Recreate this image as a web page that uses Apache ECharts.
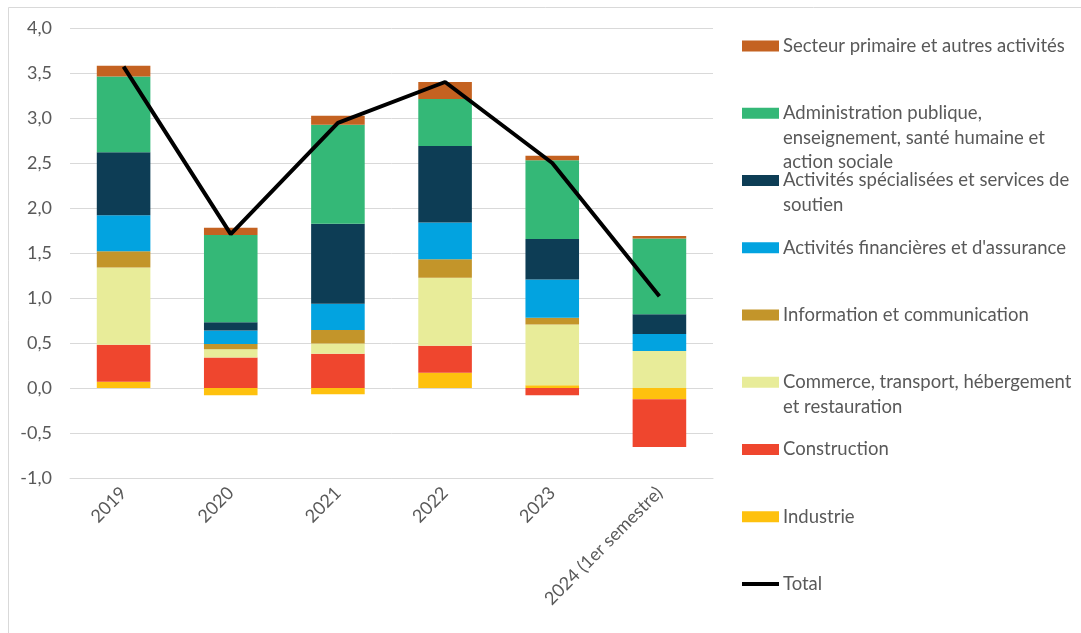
<!DOCTYPE html>
<html>
<head>
<meta charset="utf-8">
<script src="https://cdn.jsdelivr.net/npm/echarts@6/dist/echarts.min.js"></script>
<style>
  html, body { margin: 0; padding: 0; background: #fff; }
  #chart { width: 1081px; height: 633px; }
</style>
</head>
<body>
<div id="chart"></div>
<script>
// années
var years = ["2019", "2020", "2021", "2022", "2023", "2024 (1er semestre)"];

// contributions par secteur (points de %)
var industrie    = [0.07, -0.08, -0.07, 0.17, 0.03, -0.125];
var construction = [0.41, 0.34, 0.38, 0.30, -0.08, -0.53];
var commerce     = [0.86, 0.09, 0.115, 0.755, 0.675, 0.41];
var information  = [0.18, 0.06, 0.15, 0.205, 0.075, 0.0];
var financieres  = [0.40, 0.15, 0.29, 0.41, 0.425, 0.19];
var specialisees = [0.70, 0.09, 0.89, 0.85, 0.45, 0.22];
var administration = [0.84, 0.97, 1.10, 0.52, 0.875, 0.84];
var primaire     = [0.12, 0.08, 0.10, 0.19, 0.05, 0.03];
var total        = [3.57, 1.71, 2.945, 3.40, 2.50, 1.02];

var yTicks = { min: -1, max: 4, step: 0.5 };

var sectors = [
  { name: "Industrie", data: industrie, color: "#FEC10E" },
  { name: "Construction", data: construction, color: "#EF462E" },
  { name: "Commerce, transport, hébergement et restauration", data: commerce, color: "#E8EC99" },
  { name: "Information et communication", data: information, color: "#C3952A" },
  { name: "Activités financières et d'assurance", data: financieres, color: "#02A3E0" },
  { name: "Activités spécialisées et services de soutien", data: specialisees, color: "#0D3D55" },
  { name: "Administration publique, enseignement, santé humaine et action sociale", data: administration, color: "#34B877" },
  { name: "Secteur primaire et autres activités", data: primaire, color: "#C46221" }
];

// libellés de légende (première ligne) et lignes suivantes
var legendLines = {
  "Industrie": ["Industrie"],
  "Construction": ["Construction"],
  "Commerce, transport, hébergement et restauration": ["Commerce, transport, hébergement", "et restauration"],
  "Information et communication": ["Information et communication"],
  "Activités financières et d'assurance": ["Activités financières et d'assurance"],
  "Activités spécialisées et services de soutien": ["Activités spécialisées et services de", "soutien"],
  "Administration publique, enseignement, santé humaine et action sociale": ["Administration publique,", "enseignement, santé humaine et", "action sociale"],
  "Secteur primaire et autres activités": ["Secteur primaire et autres activités"],
  "Total": ["Total"]
};

var FONT = "Lato";
var FSIZE = 18;
var LEG_FSIZE = 18.5;
var TEXT_COLOR = "#595959";

var chart = echarts.init(document.getElementById("chart"));

var series = sectors.map(function (s) {
  return {
    name: s.name,
    type: "bar",
    stack: "contrib",
    barWidth: "50%",
    data: s.data,
    itemStyle: { color: s.color },
    z: 2
  };
});
series.push({
  name: "Total",
  type: "line",
  data: total,
  symbol: "none",
  lineStyle: { color: "#000", width: 4 },
  itemStyle: { color: "#000" },
  z: 5
});

// légende : un composant par entrée pour placer chaque ligne
var legendOrder = sectors.map(function (s) { return s.name; }).reverse().concat(["Total"]);
var legendX = 742, legendY0 = 45, legendStep = 67.25, lineH = 23.5;
var legends = [];
var graphics = [{
  type: "rect",
  shape: { x: 8.5, y: 7.5, width: 1100, height: 700 },
  style: { fill: null, stroke: "#d9d9d9", lineWidth: 1 },
  silent: true
}];
legendOrder.forEach(function (name, i) {
  var cy = legendY0 + i * legendStep;
  var isLine = name === "Total";
  var h = isLine ? 4 : 11;
  legends.push({
    data: [{ name: name, icon: "rect" }],
    left: legendX,
    top: cy - 8.5,
    orient: "vertical",
    itemWidth: 37,
    itemHeight: h,
    padding: 0,
    selectedMode: false,
    itemStyle: isLine ? { color: "#000", borderWidth: 0 } : { borderWidth: 0 },
    lineStyle: { width: 0 },
    formatter: function (n) { return legendLines[n][0]; },
    textStyle: { fontFamily: FONT, fontSize: LEG_FSIZE, color: TEXT_COLOR, padding: [0, 0, 0, -1] }
  });
  legendLines[name].slice(1).forEach(function (txt, k) {
    graphics.push({
      type: "text",
      left: 783,
      top: cy + (k + 1) * lineH - 7,
      style: { text: txt, fontFamily: FONT, fontSize: LEG_FSIZE, fill: TEXT_COLOR },
      silent: true
    });
  });
});

chart.setOption({
  animation: false,
  backgroundColor: "#fff",
  textStyle: { fontFamily: FONT },
  grid: { left: 70, right: 368, top: 28, bottom: 155, containLabel: false },
  legend: legends,
  graphic: graphics,
  xAxis: {
    type: "category",
    data: years,
    axisLine: { onZero: false, lineStyle: { color: "#d9d9d9" } },
    axisTick: { show: false },
    axisLabel: { rotate: 45, margin: 12, fontFamily: FONT, fontSize: FSIZE, color: TEXT_COLOR, interval: 0 }
  },
  yAxis: {
    type: "value",
    min: yTicks.min,
    max: yTicks.max,
    interval: yTicks.step,
    axisLine: { show: false },
    axisTick: { show: false },
    splitLine: { lineStyle: { color: "#d9d9d9", width: 1 } },
    axisLabel: {
      margin: 18,
      fontFamily: FONT,
      fontSize: FSIZE,
      color: TEXT_COLOR,
      formatter: function (v) { return v.toFixed(1).replace(".", ","); }
    }
  },
  series: series
});
</script>
</body>
</html>
